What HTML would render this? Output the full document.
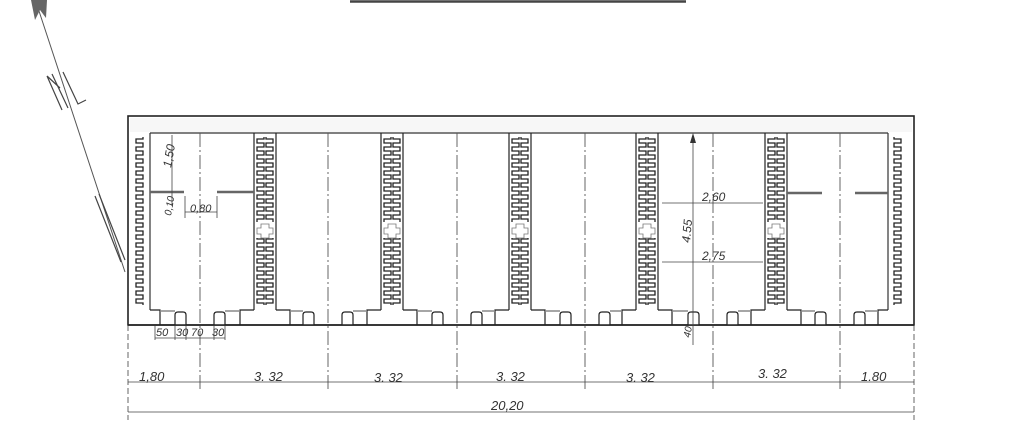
<!DOCTYPE html>
<html><head><meta charset="utf-8"><style>
html,body{margin:0;padding:0;background:#fff;}
svg{display:block;}
text{font-family:"Liberation Sans",sans-serif;font-style:italic;fill:#333;}
</style></head><body>
<svg width="1032" height="422" viewBox="0 0 1032 422" xmlns="http://www.w3.org/2000/svg">
<defs>
<pattern id="cL" patternUnits="userSpaceOnUse" width="9" height="8" x="0" y="1">
<path d="M8,0 V2 H1 V6 H8 V8" fill="none" stroke="#222" stroke-width="1.3"/>
</pattern>
<pattern id="cR" patternUnits="userSpaceOnUse" width="9" height="8" x="0" y="1">
<path d="M1,0 V2 H8 V6 H1 V8" fill="none" stroke="#222" stroke-width="1.3"/>
</pattern>
<g id="wall">
<line x1="-11" y1="133" x2="-11" y2="310" stroke="#222" stroke-width="1.2"/>
<line x1="11" y1="133" x2="11" y2="310" stroke="#222" stroke-width="1.2"/>
<rect x="-9" y="137" width="9" height="85" fill="url(#cL)"/>
<rect x="0" y="137" width="9" height="85" fill="url(#cR)"/>
<rect x="-9" y="238" width="9" height="67" fill="url(#cL)"/>
<rect x="0" y="238" width="9" height="67" fill="url(#cR)"/>
<path d="M-4,224 h8 v4 h4 v6 h-4 v4 h-8 v-4 h-4 v-6 h4 z" stroke="#777" stroke-width="0.8" fill="none"/>
<path d="M-11,310 h-14 v15 M11,310 h14 v15" stroke="#222" stroke-width="1.2" fill="none"/>
</g>
<path id="blk" d="M0,325 v-10 q0,-3 3,-3 h5 q3,0 3,3 v10" stroke="#222" stroke-width="1.2" fill="#fff"/>
</defs>
<rect width="1032" height="422" fill="#fff"/>
<line x1="350" y1="1.5" x2="686" y2="1.5" stroke="#444" stroke-width="2.5"/>
<!-- north arrow -->
<line x1="38" y1="8" x2="125" y2="272" stroke="#555" stroke-width="1"/>
<polygon points="31,0 47,0 46,18 40,10 35,20" fill="#666"/>
<path d="M47,76 L62,110 M47,76 L60,88 M52,74 L68,108 M63,72 L78,104 L86,100" stroke="#444" fill="none" stroke-width="1.2"/>
<path d="M95,196 L121,262 M99,194 L125,260" stroke="#444" fill="none" stroke-width="1.2"/>
<!-- outer box -->
<rect x="128" y="116" width="786" height="209" fill="#fff" stroke="#222" stroke-width="1.6"/>
<rect x="130" y="118" width="782" height="14" fill="#f7f7f7"/>
<line x1="150" y1="133" x2="888" y2="133" stroke="#333" stroke-width="1.3"/>
<g stroke="#555" stroke-width="0.9" stroke-dasharray="14 3 2 3">
<line x1="200" y1="133" x2="200" y2="392"/><line x1="328" y1="133" x2="328" y2="392"/>
<line x1="457" y1="133" x2="457" y2="392"/><line x1="585" y1="133" x2="585" y2="392"/>
<line x1="713" y1="133" x2="713" y2="392"/><line x1="840" y1="133" x2="840" y2="392"/>
</g>
<g stroke="#555" stroke-width="0.9" stroke-dasharray="6 3">
<line x1="128" y1="325" x2="128" y2="420"/><line x1="914" y1="325" x2="914" y2="420"/>
</g>
<!-- end walls -->
<g transform="translate(135,0)"><rect x="0" y="137" width="9" height="168" fill="url(#cL)"/></g>
<line x1="150" y1="133" x2="150" y2="310" stroke="#333" stroke-width="1.2"/>
<g transform="translate(893,0)"><rect x="0" y="137" width="9" height="168" fill="url(#cR)"/></g>
<line x1="888" y1="133" x2="888" y2="310" stroke="#333" stroke-width="1.2"/>
<path d="M150,310 h10 v15 M888,310 h-10 v15" stroke="#222" stroke-width="1.2" fill="none"/>
<!-- walls -->
<use href="#wall" transform="translate(265,0)"/>
<use href="#wall" transform="translate(392,0)"/>
<use href="#wall" transform="translate(520,0)"/>
<use href="#wall" transform="translate(647,0)"/>
<use href="#wall" transform="translate(776,0)"/>
<!-- blocks -->
<use href="#blk" x="175"/><use href="#blk" x="214"/>
<use href="#blk" x="303"/><use href="#blk" x="342"/>
<use href="#blk" x="432"/><use href="#blk" x="471"/>
<use href="#blk" x="560"/><use href="#blk" x="599"/>
<use href="#blk" x="688"/><use href="#blk" x="727"/>
<use href="#blk" x="815"/><use href="#blk" x="854"/>
<g stroke="#888" stroke-width="1.5">
<line x1="160" y1="311" x2="175" y2="311"/><line x1="225" y1="311" x2="240" y2="311"/>
<line x1="290" y1="311" x2="303" y2="311"/><line x1="353" y1="311" x2="367" y2="311"/>
<line x1="417" y1="311" x2="432" y2="311"/><line x1="482" y1="311" x2="495" y2="311"/>
<line x1="545" y1="311" x2="560" y2="311"/><line x1="610" y1="311" x2="622" y2="311"/>
<line x1="672" y1="311" x2="688" y2="311"/><line x1="738" y1="311" x2="751" y2="311"/>
<line x1="801" y1="311" x2="815" y2="311"/><line x1="865" y1="311" x2="878" y2="311"/>
</g>
<line x1="128" y1="325" x2="914" y2="325" stroke="#222" stroke-width="1.6"/>
<!-- rails -->
<g stroke="#666" stroke-width="2.5">
<line x1="150" y1="192" x2="184" y2="192"/><line x1="217" y1="192" x2="254" y2="192"/>
<line x1="787" y1="193" x2="822" y2="193"/><line x1="855" y1="193" x2="888" y2="193"/>
</g>
<g stroke="#444" stroke-width="0.8" fill="none">
<line x1="172" y1="135" x2="172" y2="206"/>
<line x1="185" y1="196" x2="185" y2="218"/><line x1="217" y1="196" x2="217" y2="218"/>
<line x1="185" y1="212" x2="217" y2="212"/>
<line x1="155" y1="338" x2="225" y2="338"/>
<line x1="155" y1="326" x2="155" y2="340"/><line x1="175" y1="326" x2="175" y2="340"/><line x1="186" y1="326" x2="186" y2="340"/>
<line x1="214" y1="326" x2="214" y2="340"/><line x1="225" y1="326" x2="225" y2="340"/>
<line x1="662" y1="203" x2="763" y2="203"/>
<line x1="662" y1="262" x2="763" y2="262"/>
<line x1="693" y1="135" x2="693" y2="345"/>
<line x1="128" y1="382" x2="914" y2="382"/>
<line x1="128" y1="412" x2="914" y2="412"/>
</g>
<polygon points="693,133 690,143 696,143" fill="#333"/>
<g font-size="12">
<text x="0" y="0" transform="translate(171,168) rotate(-80)">1,50</text>
<text x="0" y="0" transform="translate(171,216) rotate(-80)" font-size="10">0,10</text>
<text x="190" y="212" font-size="11">0,80</text>
<text x="156" y="336" font-size="11">50</text><text x="176" y="336" font-size="11">30</text>
<text x="191" y="336" font-size="11">70</text><text x="212" y="336" font-size="11">30</text>
<text x="702" y="201">2,60</text>
<text x="702" y="260">2,75</text>
<text x="0" y="0" transform="translate(690,243) rotate(-85)">4.55</text>
<text x="0" y="0" transform="translate(690,338) rotate(-80)" font-size="10">40</text>
<text x="139" y="381" font-size="13">1,80</text>
<text x="254" y="381" font-size="13">3. 32</text>
<text x="374" y="382" font-size="13">3. 32</text>
<text x="496" y="381" font-size="13">3. 32</text>
<text x="626" y="382" font-size="13">3. 32</text>
<text x="758" y="378" font-size="13">3. 32</text>
<text x="861" y="381" font-size="13">1.80</text>
<text x="491" y="410" font-size="13">20,20</text>
</g>
</svg>
</body></html>
